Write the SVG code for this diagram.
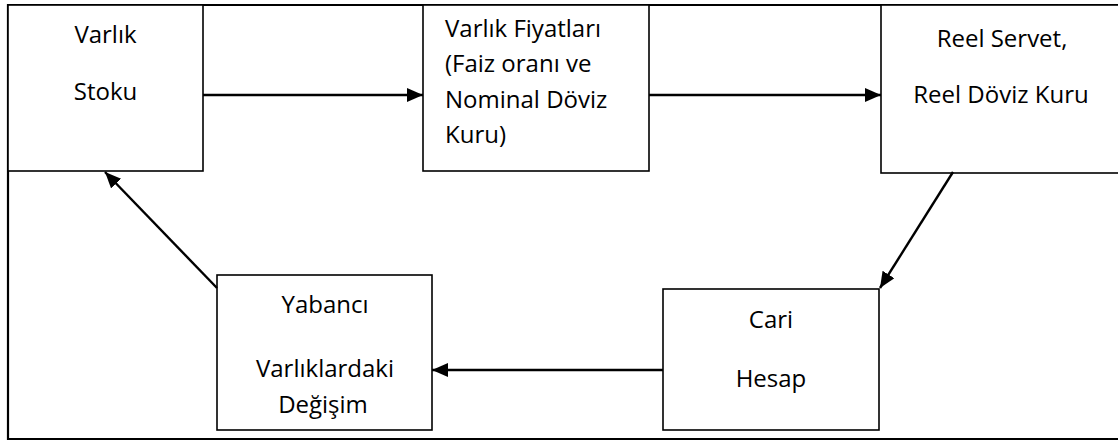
<svg xmlns="http://www.w3.org/2000/svg" width="1118" height="441" viewBox="0 0 1118 441">
<style>
.box{fill:#fff;stroke:#000;stroke-width:1.6}
.frame{fill:none;stroke:#000;stroke-width:2.2}
.conn{stroke:#000;stroke-width:2.4;fill:none}
text{font-family:"Open Sans","Noto Sans","DejaVu Sans",sans-serif;font-size:24px;fill:#000}
.c{text-anchor:middle}
</style>
<defs>
<marker id="ah" markerUnits="userSpaceOnUse" markerWidth="18" markerHeight="16" refX="16" refY="7" orient="auto">
<path d="M0,0 L16,7 L0,14 z" fill="#000"/>
</marker>
</defs>
<rect x="0" y="0" width="1118" height="441" fill="#fff"/>
<g id="frame">
<path class="frame" d="M1118,5 L8,5 L8,439 L1118,439"/>
</g>
<g id="n1">
<rect class="box" x="8" y="5" width="195" height="166"/>
<text class="c" x="105.5" y="43">Varlık</text>
<text class="c" x="105.5" y="100">Stoku</text>
</g>
<g id="n2">
<rect class="box" x="423" y="5" width="226" height="166"/>
<text x="445" y="37">Varlık Fiyatları</text>
<text x="445" y="72">(Faiz oranı ve</text>
<text x="445" y="108">Nominal Döviz</text>
<text x="445" y="143">Kuru)</text>
</g>
<g id="n3">
<rect class="box" x="881" y="5" width="250" height="168"/>
<text class="c" x="1002" y="47">Reel Servet,</text>
<text class="c" x="1001" y="103">Reel Döviz Kuru</text>
</g>
<g id="n4">
<rect class="box" x="217" y="275" width="215" height="155"/>
<text class="c" x="325" y="313">Yabancı</text>
<text class="c" x="325" y="377">Varlıklardaki</text>
<text class="c" x="323" y="413">Değişim</text>
</g>
<g id="n5">
<rect class="box" x="663" y="289" width="216" height="141"/>
<text class="c" x="771" y="328">Cari</text>
<text class="c" x="771" y="387">Hesap</text>
</g>
<g id="connectors">
<line class="conn" x1="203" y1="95" x2="423" y2="95" marker-end="url(#ah)"/>
<line class="conn" x1="649" y1="95" x2="881" y2="95" marker-end="url(#ah)"/>
<line class="conn" x1="953" y1="172" x2="880" y2="288" marker-end="url(#ah)"/>
<line class="conn" x1="217" y1="288" x2="105" y2="172" marker-end="url(#ah)"/>
<line class="conn" x1="663" y1="370" x2="432" y2="370" marker-end="url(#ah)"/>
</g>
</svg>
